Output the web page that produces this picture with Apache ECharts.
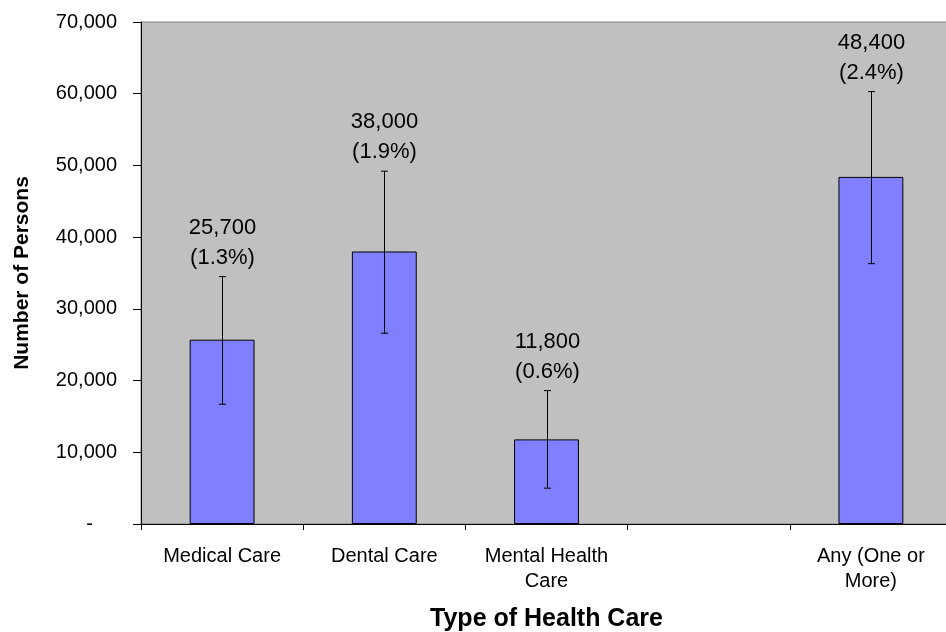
<!DOCTYPE html>
<html>
<head>
<meta charset="utf-8">
<script src="https://cdn.jsdelivr.net/npm/echarts@6/dist/echarts.min.js"></script>
<style>
html,body{margin:0;padding:0;background:#fff;}
#chart{width:946px;height:632px;}
</style>
</head>
<body>
<div id="chart"></div>
<script>
const categories = ['Medical Care', 'Dental Care', 'Mental Health\nCare', '', 'Any (One or\nMore)'];
const persons = [25700, 38000, 11800, null, 48400];
const percents = ['1.3%', '1.9%', '0.6%', null, '2.4%'];
const errLow = [16700, 26600, 5000, null, 36300];
const errHigh = [34500, 49200, 18600, null, 60300];
const yTicks = { min: 0, max: 70000, interval: 10000 };

const FONT = "'Liberation Sans', Arial, sans-serif";
const chart = echarts.init(document.getElementById('chart'));

function fmt(v) { return v.toString().replace(/\B(?=(\d{3})+(?!\d))/g, ','); }

const errData = categories.map((c, i) => [i, errLow[i], errHigh[i], persons[i], percents[i]]);

chart.setOption({
  animation: false,
  backgroundColor: '#ffffff',
  grid: {
    left: 141, top: 22, bottom: 108, width: 811,
    outerBoundsMode: 'none',
    containLabel: false,
    show: true, backgroundColor: '#C0C0C0', borderColor: '#808080', borderWidth: 1
  },
  xAxis: {
    type: 'category',
    data: categories,
    boundaryGap: true,
    axisLine: { lineStyle: { color: '#000', width: 1 } },
    axisTick: { show: true, length: 6, lineStyle: { color: '#000' } },
    axisLabel: { interval: 0, fontSize: 20, lineHeight: 25, color: '#000', fontFamily: FONT, margin: 20 },
    name: 'Type of Health Care',
    nameLocation: 'middle',
    nameGap: 83,
    nameTextStyle: { fontSize: 25, fontWeight: 'bold', color: '#000', fontFamily: FONT }
  },
  yAxis: {
    type: 'value',
    min: yTicks.min, max: yTicks.max, interval: yTicks.interval,
    splitLine: { show: false },
    axisLine: { show: true, lineStyle: { color: '#000', width: 1 } },
    axisTick: { show: true, length: 8, lineStyle: { color: '#000' } },
    axisLabel: {
      fontSize: 20, color: '#000', fontFamily: FONT, margin: 24,
      formatter: v => v === 0 ? '{z|-}' : fmt(v),
      rich: { z: { fontSize: 20, color: '#000', fontFamily: FONT, padding: [0, 24, 0, 0] } }
    },
    name: 'Number of Persons',
    nameLocation: 'middle',
    nameGap: 108,
    nameTextStyle: { fontSize: 21, fontWeight: 'bold', color: '#000', fontFamily: FONT }
  },
  series: [
    {
      type: 'bar',
      data: persons,
      barWidth: '40%',
      itemStyle: { color: '#8080FF', borderColor: '#000', borderWidth: 1 }
    },
    {
      type: 'custom',
      data: errData,
      z: 10,
      renderItem: function (params, api) {
        const lo = api.value(1), hi = api.value(2);
        if (lo == null || isNaN(lo)) return null;
        const pLo = api.coord([api.value(0), lo]);
        const pHi = api.coord([api.value(0), hi]);
        const x = Math.round(pLo[0]) + 0.5;
        const cap = 3.5;
        const style = { stroke: '#000', lineWidth: 1 };
        const d = errData[params.dataIndex];
        return {
          type: 'group',
          children: [
            { type: 'line', shape: { x1: x, y1: pLo[1], x2: x, y2: pHi[1] }, style: style },
            { type: 'line', shape: { x1: x - cap, y1: pHi[1], x2: x + cap, y2: pHi[1] }, style: style },
            { type: 'line', shape: { x1: x - cap, y1: pLo[1], x2: x + cap, y2: pLo[1] }, style: style },
            {
              type: 'text',
              style: {
                text: fmt(d[3]) + '\n(' + d[4] + ')',
                x: x, y: pHi[1] - 4,
                align: 'center', verticalAlign: 'bottom',
                fontSize: 22, lineHeight: 30, fontFamily: FONT, fill: '#000'
              }
            }
          ]
        };
      }
    }
  ]
});
</script>
</body>
</html>
